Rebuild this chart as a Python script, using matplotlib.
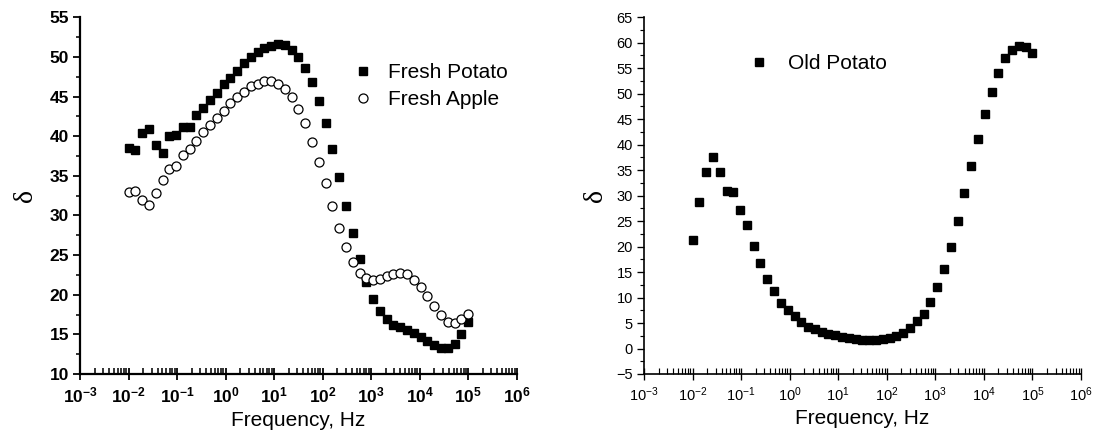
import matplotlib
matplotlib.use("Agg")
import matplotlib.pyplot as plt
import numpy as np
from matplotlib.ticker import MultipleLocator, LogLocator, FuncFormatter, NullFormatter

plt.rcParams["font.family"] = ["Liberation Sans", "DejaVu Sans"]
plt.rcParams["mathtext.fontset"] = "custom"
plt.rcParams["mathtext.rm"] = "Liberation Sans"
plt.rcParams["mathtext.bf"] = "Liberation Sans:bold"

# frequency sweep, Hz (same grid for all three series)
freq = [0.01, 0.0138, 0.0191, 0.0263, 0.0363, 0.0501, 0.0692, 0.0955, 0.132, 0.182,
        0.251, 0.347, 0.479, 0.661, 0.912, 1.26, 1.74, 2.40, 3.31, 4.57,
        6.31, 8.71, 12.0, 16.6, 22.9, 31.6, 43.7, 60.3, 83.2, 115,
        158, 219, 302, 417, 575, 794, 1096, 1514, 2089, 2884,
        3981, 5495, 7586, 10470, 14450, 19950, 27540, 38020, 52480, 72440, 100000]

fresh_potato = [38.5, 38.3, 40.4, 40.9, 38.9, 37.9, 40.0, 40.2, 41.2, 41.2,
                42.7, 43.5, 44.6, 45.5, 46.6, 47.4, 48.2, 49.2, 50.0, 50.6,
                51.1, 51.4, 51.6, 51.5, 50.9, 50.0, 48.6, 46.8, 44.4, 41.6,
                38.4, 34.9, 31.2, 27.8, 24.5, 21.6, 19.5, 17.9, 16.9, 16.2,
                15.9, 15.6, 15.2, 14.7, 14.1, 13.6, 13.3, 13.3, 13.8, 15.0, 16.6]

fresh_apple = [32.9, 33.1, 32.0, 31.3, 32.8, 34.5, 35.8, 36.3, 37.6, 38.4,
               39.4, 40.5, 41.4, 42.3, 43.2, 44.2, 44.9, 45.6, 46.3, 46.6,
               46.9, 46.9, 46.6, 45.9, 44.9, 43.4, 41.6, 39.3, 36.8, 34.1,
               31.2, 28.4, 26.0, 24.1, 22.8, 22.1, 21.9, 22.0, 22.3, 22.6,
               22.7, 22.6, 21.9, 21.0, 19.8, 18.6, 17.5, 16.6, 16.4, 16.9, 17.6]

old_potato = [21.3, 28.8, 34.6, 37.5, 34.6, 30.9, 30.7, 27.1, 24.3, 20.2,
              16.7, 13.6, 11.2, 9.0, 7.6, 6.3, 5.2, 4.3, 3.8, 3.3,
              2.9, 2.6, 2.3, 2.1, 1.9, 1.7, 1.6, 1.6, 1.8, 2.0,
              2.5, 3.1, 4.1, 5.3, 6.8, 9.1, 12.0, 15.6, 20.0, 25.0,
              30.5, 35.9, 41.1, 46.0, 50.4, 54.1, 57.0, 58.6, 59.4, 59.2, 57.9]


def style_axis(ax, ylim, bold, lw, tick_fs):
    ax.set_xscale("log")
    ax.set_xlim(1e-3, 1e6)
    ax.set_ylim(*ylim)
    for s in ("top", "right"):
        ax.spines[s].set_visible(False)
    for s in ("left", "bottom"):
        ax.spines[s].set_linewidth(lw)
    ax.xaxis.set_major_locator(LogLocator(base=10, numticks=12))
    ax.xaxis.set_minor_locator(LogLocator(base=10, subs=np.arange(2, 10), numticks=12))
    ax.xaxis.set_minor_formatter(NullFormatter())
    fmt = r"$\mathbf{10^{%d}}$" if bold else r"$\mathrm{10^{%d}}$"
    ax.xaxis.set_major_formatter(FuncFormatter(lambda v, p: fmt % round(np.log10(v))))
    ax.yaxis.set_major_locator(MultipleLocator(5))
    ax.yaxis.set_minor_locator(MultipleLocator(2.5))
    ax.tick_params(axis="x", which="major", direction="inout", length=8, width=lw * 0.8,
                   labelsize=tick_fs, pad=4)
    ax.tick_params(axis="x", which="minor", direction="in", length=4, width=lw * 0.7)
    ax.tick_params(axis="y", which="major", direction="out", length=5, width=lw * 0.8,
                   labelsize=tick_fs, pad=3)
    ax.tick_params(axis="y", which="minor", direction="out", length=3, width=lw * 0.7)
    if bold:
        for lab in ax.get_yticklabels():
            lab.set_fontweight("bold")
    ax.set_xlabel("Frequency, Hz", fontsize=15, labelpad=4)


fig = plt.figure(figsize=(10.95, 4.33), dpi=100)
ax1 = fig.add_axes([0.0731, 0.1363, 0.3988, 0.8238])
ax2 = fig.add_axes([0.5881, 0.1363, 0.3991, 0.8238])

ax1.plot(freq, fresh_potato, "s", color="black", ms=6, label="Fresh Potato")
ax1.plot(freq, fresh_apple, "o", mfc="white", mec="black", mew=0.9, ms=6.5, label="Fresh Apple")
style_axis(ax1, (10, 55), True, 1.6, 12.5)
ax1.set_ylabel("δ", fontsize=20, family="Liberation Serif", labelpad=8)
ax1.legend(loc="upper left", bbox_to_anchor=(0.625, 0.872), frameon=False, fontsize=15,
           handlelength=1.0, handletextpad=0.7, labelspacing=0.4, borderpad=0,
           borderaxespad=0, numpoints=1)

ax2.plot(freq, old_potato, "s", color="black", ms=6, label="Old Potato")
style_axis(ax2, (-5, 65), False, 1.2, 10.5)
ax2.set_ylabel("δ", fontsize=20, family="Liberation Serif", labelpad=6)
ax2.legend(loc="upper left", bbox_to_anchor=(0.24, 0.897), frameon=False, fontsize=15,
           handlelength=1.0, handletextpad=0.9, borderpad=0, borderaxespad=0, numpoints=1)

fig.savefig("out.png", dpi=100)
